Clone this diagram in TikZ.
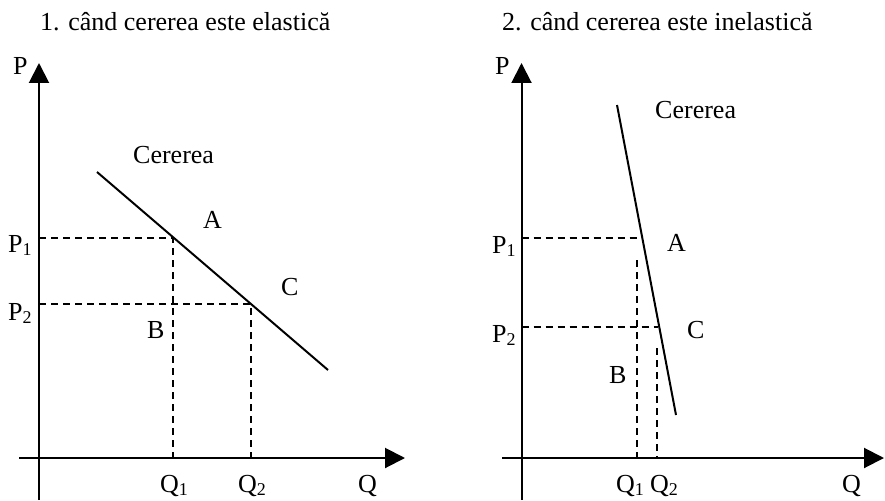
\documentclass[tikz,border=0pt]{standalone}
\usepackage{fontspec}
\setmainfont{Liberation Serif}
\usetikzlibrary{arrows.meta}
\newcommand\lowsub[1]{\raisebox{-3pt}{\fontsize{18}{18}\selectfont #1}}
\begin{document}
\begin{tikzpicture}[x=1pt,y=-1pt,
  lbl/.style={inner sep=0pt,anchor=base west,font=\fontsize{26}{30}\selectfont},
  axis/.style={line width=2pt,-{Triangle[length=20pt,width=20pt]}},
  demand/.style={line width=2pt},
  guide/.style={line width=2pt,dash pattern=on 7pt off 5pt}]
\useasboundingbox (0,0) rectangle (885,500);
% ---------- titles
\node[lbl] (t1) at (40,31) {1. când cererea este elastică};
\node[lbl] (t2) at (502,31) {2. când cererea este inelastică};
% ---------- left chart
\coordinate (ly0) at (39,500);
\coordinate (ly1) at (39,63);
\coordinate (lx0) at (19,458);
\coordinate (lx1) at (405,458);
\draw[axis] (ly0) -- (ly1);
\draw[axis] (lx0) -- (lx1);
\coordinate (lA) at (173,238);
\coordinate (lC) at (251,304);
\coordinate (lp1) at (39,238);
\coordinate (lp2) at (39,304);
\coordinate (lq1) at (173,458);
\coordinate (lq2) at (251,458);
\draw[guide] (lp1) -- (lA) -- (lq1);
\draw[guide] (lp2) -- (lC) -- (lq2);
\coordinate (ld0) at (97,172);
\coordinate (ld1) at (328,370);
\draw[demand] (ld0) -- (ld1);
\node[lbl] (lP) at (13,75) {P};
\node[lbl] (lP1) at (8,252) {P\lowsub{1}};
\node[lbl] (lP2) at (8,320) {P\lowsub{2}};
\node[lbl] (lQ1) at (160,492) {Q\lowsub{1}};
\node[lbl] (lQ2) at (238,492) {Q\lowsub{2}};
\node[lbl] (lQ) at (358,492) {Q};
\node[lbl] (lAl) at (203,228) {A};
\node[lbl] (lCl) at (281,295) {C};
\node[lbl] (lBl) at (147,338) {B};
\node[lbl] (lcer) at (133,163) {Cererea};
% ---------- right chart
\coordinate (ry0) at (521.5,500);
\coordinate (ry1) at (521.5,63);
\coordinate (rx0) at (502,458);
\coordinate (rx1) at (884,458);
\draw[axis] (ry0) -- (ry1);
\draw[axis] (rx0) -- (rx1);
\coordinate (rA) at (640,238);
\coordinate (rC) at (658,327);
\coordinate (rp1) at (521.5,238);
\coordinate (rp2) at (521.5,327);
\coordinate (rq1t) at (637,260);
\coordinate (rq1) at (637,458);
\coordinate (rq2t) at (657,348);
\coordinate (rq2) at (657,458);
\draw[guide] (rp1) -- (rA);
\draw[guide] (rp2) -- (rC);
\draw[guide] (rq1t) -- (rq1);
\draw[guide] (rq2t) -- (rq2);
\coordinate (rd0) at (617,105);
\coordinate (rd1) at (676,415);
\draw[demand] (rd0) -- (rd1);
\node[lbl] (rP) at (495,75) {P};
\node[lbl] (rP1) at (492,253) {P\lowsub{1}};
\node[lbl] (rP2) at (492,342) {P\lowsub{2}};
\node[lbl] (rQ1) at (616,492) {Q\lowsub{1}};
\node[lbl] (rQ2) at (650,492) {Q\lowsub{2}};
\node[lbl] (rQ) at (842,492) {Q};
\node[lbl] (rAl) at (667,251) {A};
\node[lbl] (rCl) at (687,338) {C};
\node[lbl] (rBl) at (609,383) {B};
\node[lbl] (rcer) at (655,118) {Cererea};
\end{tikzpicture}
\end{document}
